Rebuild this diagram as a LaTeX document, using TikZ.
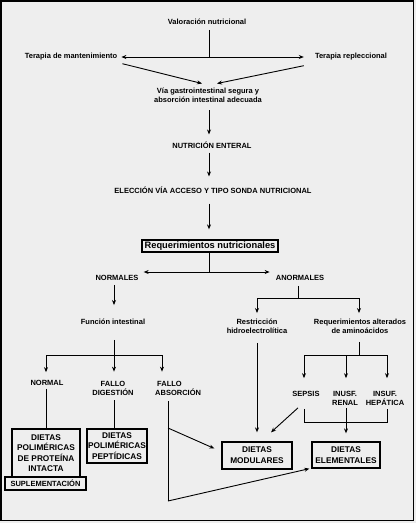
\documentclass[tikz,border=0pt]{standalone}
\usepackage{fontspec}
\newfontfamily\arfont{Liberation Sans}
\usetikzlibrary{arrows.meta}
\newcommand\lblfont{\arfont\bfseries\fontsize{7.5}{9}\selectfont}
\newcommand\boxfont{\arfont\bfseries\fontsize{8.3}{10.3}\selectfont}
\newcommand\bigfont{\arfont\bfseries\fontsize{9.3}{11}\selectfont}
\definecolor{bgc}{RGB}{238,238,238}
\tikzset{
  lbl/.style={font=\lblfont, inner sep=1pt, align=center},
  lblleft/.style={font=\lblfont, inner sep=1pt, align=left},
  boxnode/.style={draw, line width=1.3pt, align=center, font=\boxfont, inner sep=0pt},
  arr/.style={-{Stealth[length=5pt,width=4pt]}, line width=0.9pt},
  dblarr/.style={{Stealth[length=5pt,width=4pt]}-{Stealth[length=5pt,width=4pt]}, line width=0.9pt},
  ln/.style={line width=0.9pt},
}
\begin{document}
\begin{tikzpicture}[x=1pt,y=-1pt]
\useasboundingbox (0,0) rectangle (416,523);
\fill[bgc] (0,0) rectangle (416,523);
\draw[line width=1.6pt] (1,1) rectangle (413.5,520.5);

% nodes
\node[lbl] (val) at (207,22) {Valoración nutricional};
\node[lbl] (mant) at (71,57) {Terapia de mantenimiento};
\node[lbl] (repl) at (351,57) {Terapia repleccional};
\node[lbl] (via) at (208,95) {Vía gastrointestinal segura y\\absorción intestinal adecuada};
\node[lbl] (nut) at (212,145) {NUTRICIÓN ENTERAL};
\node[lbl] (elec) at (213,190) {ELECCIÓN VÍA ACCESO Y TIPO SONDA NUTRICIONAL};
\node[boxnode, font=\bigfont, minimum width=136pt, minimum height=12pt] (req) at (210,246) {Requerimientos nutricionales};
\node[lbl] (norm) at (117,278) {NORMALES};
\node[lbl] (anorm) at (300,278) {ANORMALES};
\node[lbl] (func) at (113,322) {Función intestinal};
\node[lbl] (restr) at (257,326.5) {Restricción\\hidroelectrolítica};
\node[lbl] (reqalt) at (360,326.5) {Requerimientos alterados\\de aminoácidos};
\node[lbl] (normal) at (47,383) {NORMAL};
\node[lbl] (fdig) at (113,388) {FALLO\\DIGESTIÓN};
\node[lblleft, anchor=west] (fabs) at (154,388) {\hspace*{2pt}FALLO\\ABSORCIÓN};
\node[lbl] (sepsis) at (306,394) {SEPSIS};
\node[lbl] (renal) at (345,398.5) {INUSF.\\RENAL};
\node[lbl] (hep) at (385,398.5) {INSUF.\\HEPÁTICA};
\node[boxnode, minimum width=68pt, minimum height=48pt] (bpi) at (46,453) {DIETAS\\POLIMÉRICAS\\DE PROTEÍNA\\INTACTA};
\node[boxnode, font=\lblfont, fill=bgc, minimum width=81pt, minimum height=13pt] (supl) at (45.5,483.5) {SUPLEMENTACIÓN};
\node[boxnode, minimum width=60pt, minimum height=34pt] (pep) at (117,446) {DIETAS\\POLIMÉRICAS\\PEPTÍDICAS};
\node[boxnode, font=\arfont\bfseries\fontsize{8.3}{11}\selectfont, minimum width=70pt, minimum height=27pt] (mod) at (257,455.5) {DIETAS\\MODULARES};
\node[boxnode, font=\arfont\bfseries\fontsize{8.3}{11}\selectfont, minimum width=68pt, minimum height=26pt] (elem) at (346,455) {DIETAS\\ELEMENTALES};

% junctions
\coordinate (j1) at (209,57);
\coordinate (j2) at (209,272);
\coordinate (j3) at (114,355);
\coordinate (j3l) at (46,355);
\coordinate (j3r) at (162,355);
\coordinate (j4) at (298,298);
\coordinate (j4l) at (257,298);
\coordinate (j4r) at (359,298);
\coordinate (j5) at (359,355);
\coordinate (j5l) at (304,355);
\coordinate (j5m) at (346,355);
\coordinate (j5r) at (387,355);
\coordinate (j6l) at (304,422);
\coordinate (j6) at (346,422);
\coordinate (j6r) at (387,422);
\coordinate (fa1) at (168,428);
\coordinate (fa2) at (168,501);

% connectors
\draw[ln, shorten <=4pt] (val.south -| j1) -- (j1);
\draw[dblarr] ([xshift=3pt]mant.east) -- ([xshift=-10pt]repl.west);
\draw[arr] ([shift={(4,2)}]mant.south east) -- ([shift={(-6,-3)}]via.north);
\draw[arr] ([shift={(-10,4)}]repl.south west) -- ([shift={(9,-3)}]via.north);
\draw[arr, shorten <=7pt, shorten >=6pt] (via.south -| j1) -- (nut.north -| j1);
\draw[arr, shorten <=3pt, shorten >=9pt] (nut.south -| j1) -- (elec.north -| j1);
\draw[arr, shorten <=9pt, shorten >=10pt] (elec.south -| j1) -- (req.north -| j1);
\draw[ln] (req.south -| j2) -- (j2);
\draw[arr] (j2) -- ([xshift=4pt]norm.east |- j2);
\draw[arr] (j2) -- ([xshift=-5pt]anorm.west |- j2);
\draw[arr, shorten <=3pt, shorten >=13pt] (norm.south -| j3) -- (func.north -| j3);
\draw[ln, shorten <=14pt] (func.south -| j3) -- (j3);
\draw[ln] (j3l) -- (j3r);
\draw[arr, shorten >=7pt] (j3l) -- (normal.north -| j3l);
\draw[arr, shorten >=8pt] (j3) -- (fdig.north -| j3);
\draw[arr, shorten >=8pt] (j3r) -- (fabs.north -| j3r);
\draw[ln, shorten <=4pt] (anorm.south -| j4) -- (j4);
\draw[ln] (j4l) -- (j4r);
\draw[arr, shorten >=5pt] (j4l) -- (restr.north -| j4l);
\draw[arr, shorten >=5pt] (j4r) -- (reqalt.north -| j4r);
\draw[arr, shorten <=8pt, shorten >=9pt] (restr.south -| j4l) -- (mod.north -| j4l);
\draw[ln, shorten <=7pt] (reqalt.south -| j5) -- (j5);
\draw[ln] (j5l) -- (j5r);
\draw[arr, shorten >=12pt] (j5l) -- (sepsis.north -| j5l);
\draw[arr, shorten >=12pt] (j5m) -- (renal.north -| j5m);
\draw[arr, shorten >=12pt] (j5r) -- (hep.north -| j5r);
\draw[arr] ([shift={(-8,10)}]sepsis.south) -- ([shift={(14,-9)}]mod.north);
\draw[ln, shorten <=11pt, shorten >=2pt] (sepsis.south -| j6l) -- (j6l) -- (j6r) -- (hep.south -| j6r);
\draw[arr, shorten <=1pt, shorten >=8pt] (renal.south -| j6) -- (elem.north -| j6);
\draw[ln, shorten <=2pt] (normal.south -| j3l) -- (bpi.north -| j3l);
\draw[ln, shorten <=4pt] (fdig.south -| j3) -- (pep.north -| j3);
\draw[ln, shorten <=5pt] (fabs.south -| fa2) -- (fa2);
\draw[arr] (fa2) -- ([shift={(-2,0)}]elem.south west);
\draw[arr] (fa1) -- ([shift={(-7,-7)}]mod.west);
\end{tikzpicture}
\end{document}
